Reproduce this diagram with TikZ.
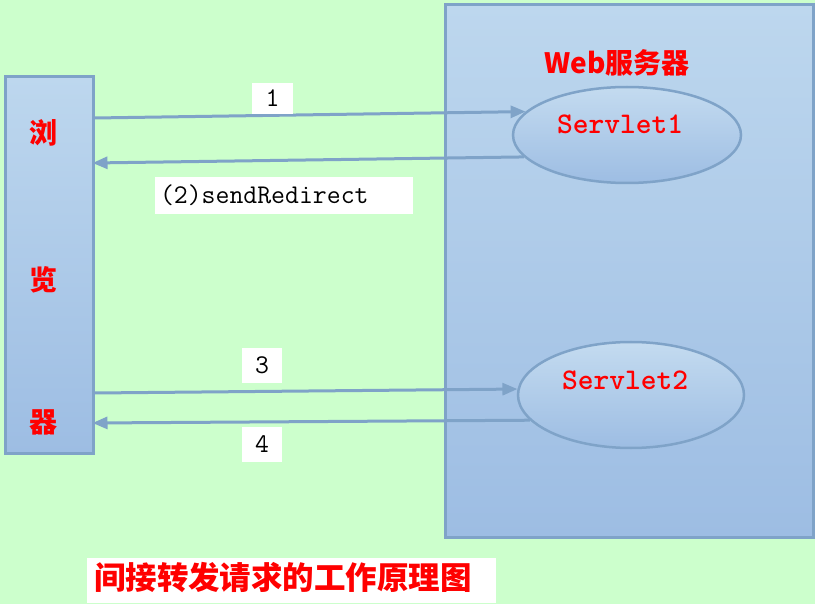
\documentclass[tikz,border=0pt]{standalone}
\usepackage{fontspec}
\usetikzlibrary{arrows.meta,shapes.geometric}
\newfontfamily\cjk{Noto Sans CJK SC}
\definecolor{bggreen}{HTML}{CCFFCC}
\definecolor{edgeblue}{HTML}{7FA3C8}
\definecolor{topblue}{HTML}{BDD7EE}
\definecolor{botblue}{HTML}{9DBDE3}
\definecolor{redtxt}{HTML}{FF0000}
\tikzset{
  panel/.style={draw=edgeblue, line width=3pt, top color=topblue, bottom color=botblue, inner sep=0pt},
  servlet/.style={ellipse, draw=edgeblue, line width=2.5pt, top color=topblue!90!white, bottom color=botblue, inner sep=0pt},
  arr/.style={draw=edgeblue, line width=3pt, -{Triangle[length=15pt,width=12pt]}},
  lbl/.style={fill=white, inner sep=0pt, font=\ttfamily\fontsize{27}{30}\selectfont},
  cjktxt/.style={text=redtxt, font=\cjk\bfseries\fontsize{28}{32}\selectfont},
  stxt/.style={text=redtxt, font=\ttfamily\bfseries\fontsize{30}{34}\selectfont}
}
\begin{document}
\begin{tikzpicture}[x=1pt,y=-1pt]
\useasboundingbox (0,0) rectangle (815,604);
\fill[bggreen] (0,0) rectangle (815,604);
% server area
\node[panel, minimum width=368pt, minimum height=532pt] (srv) at (629,271) {};
% browser
\node[panel, minimum width=88pt, minimum height=376pt] (br) at (49,265) {};
% servlets
\node[servlet, minimum width=228pt, minimum height=96pt] (s1) at (627,135) {};
\node[servlet, minimum width=226pt, minimum height=106pt] (s2) at (631,395) {};
% texts
\node[cjktxt] (web) at (617,63) {Web服务器};
\node[stxt] (t1) at (620,124) {Servlet1};
\node[stxt] (t2) at (625,380) {Servlet2};
\node[cjktxt] (c1) at (44,133) {浏};
\node[cjktxt] (c2) at (44,280) {览};
\node[cjktxt] (c3) at (44,422) {器};
% arrows
\draw[arr] (br.east |- 0,118) -- (s1.167.7);
\draw[arr] (s1.192.9) -- ([xshift=-2pt]br.east |- 0,163);
\draw[arr] (br.east |- 0,393) -- (s2.177.5);
\draw[arr] (s2.194.9) -- ([xshift=-2pt]br.east |- 0,423);
% labels
\node[lbl, minimum width=41pt, minimum height=31pt] (l1) at (272.5,98.5) {1};
\node[lbl, minimum width=258pt, minimum height=37pt, text width=248pt, align=left] (l2) at (284,195.5) {(2)sendRedirect};
\node[lbl, minimum width=40pt, minimum height=35pt] (l3) at (262,365.5) {3};
\node[lbl, minimum width=40pt, minimum height=35pt] (l4) at (262,444.5) {4};
% caption
\node[fill=white, minimum width=409pt, minimum height=45pt, inner sep=0pt] (capbox) at (291.5,580.5) {};
\node[cjktxt, font=\cjk\bfseries\fontsize{31.5}{34}\selectfont] (cap) at (283,578) {间接转发请求的工作原理图};
\end{tikzpicture}
\end{document}
